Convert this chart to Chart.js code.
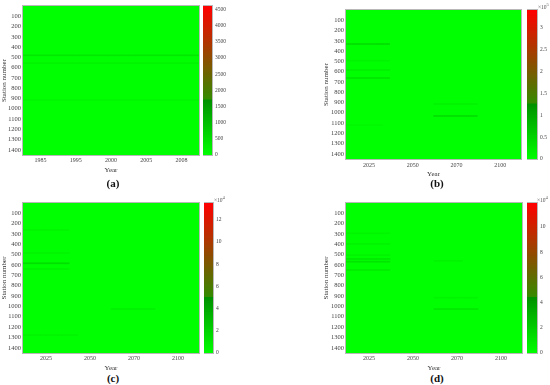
<!DOCTYPE html>
<html>
<head>
<meta charset="utf-8">
<script src="https://cdn.jsdelivr.net/npm/chart.js@4"></script>
<style>
body { margin: 0; background: #fff; width: 550px; height: 385px; position: relative; overflow: hidden; font-family: 'Liberation Serif', serif; }
canvas { position: absolute; }
.lbl { position: absolute; width: 40px; text-align: center; font-size: 11px; font-weight: bold; color: #111; line-height: 12px; }
.exp { position: absolute; font-size: 5.5px; color: #555; line-height: 6px; }
</style>
</head>
<body>
<canvas id="heatA" width="200" height="174" style="left:0;top:0"></canvas>
<canvas id="barA" width="40" height="174" style="left:203px;top:0"></canvas>
<canvas id="heatB" width="201" height="178" style="left:322px;top:0"></canvas>
<canvas id="barB" width="23" height="178" style="left:527px;top:0"></canvas>
<canvas id="heatC" width="200" height="182" style="left:0;top:190px"></canvas>
<canvas id="barC" width="40" height="182" style="left:204px;top:190px"></canvas>
<canvas id="heatD" width="201" height="182" style="left:322px;top:190px"></canvas>
<canvas id="barD" width="23" height="182" style="left:527px;top:190px"></canvas>

<div class="exp" style="left:538px;top:2px">&times;10<sup>5</sup></div>
<div class="exp" style="left:214px;top:195px">&times;10<sup>4</sup></div>
<div class="exp" style="left:537px;top:195px">&times;10<sup>4</sup></div>

<div class="lbl" style="left:93px;top:177px">(a)</div>
<div class="lbl" style="left:417px;top:177px">(b)</div>
<div class="lbl" style="left:93px;top:372px">(c)</div>
<div class="lbl" style="left:417px;top:372px">(d)</div>

<script>
const stationMax = 1450;

// (a) observed period
const colsA = 25;
const tickColsA = [2, 7, 12, 17, 22];
const tickTextA = ['1985', '1995', '2000', '2005', '2008'];
const maxA = 4600;
const barTicksA = [0, 500, 1000, 1500, 2000, 2500, 3000, 3500, 4000, 4500];
const lineStationA = [480, 555, 915];
const lineFromA = [0, 0, 0];
const lineToA = [24, 24, 24];
const lineValueA = [330, 160, 120];

// (b) projection, x10^5
const colsB = 80;
const tickColsB = [10, 30, 50, 70];
const tickTextB = ['2025', '2050', '2070', '2100'];
const maxB = 3.4;
const barTicksB = [0, 0.5, 1, 1.5, 2, 2.5, 3];
const lineStationB = [331, 493, 584, 662, 915, 1031, 1120];
const lineFromB = [0, 0, 0, 0, 40, 40, 0];
const lineToB = [19, 19, 19, 19, 59, 59, 16];
const lineValueB = [0.36, 0.12, 0.15, 0.28, 0.12, 0.36, 0.07];

// (c) projection, x10^4
const colsC = 80;
const tickColsC = [10, 30, 50, 70];
const tickTextC = ['2025', '2050', '2070', '2100'];
const maxC = 13.5;
const barTicksC = [0, 2, 4, 6, 8, 10, 12];
const lineStationC = [261, 483, 583, 638, 1025, 1276];
const lineFromC = [0, 0, 0, 0, 40, 0];
const lineToC = [20, 20, 20, 20, 59, 24];
const lineValueC = [0.4, 0.4, 1.4, 0.45, 0.6, 0.4];

// (d) projection, x10^4
const colsD = 80;
const tickColsD = [10, 30, 50, 70];
const tickTextD = ['2025', '2050', '2070', '2100'];
const maxD = 11.9;
const barTicksD = [0, 2, 4, 6, 8, 10];
const lineStationD = [293, 396, 503, 541, 567, 648, 560, 915, 1025];
const lineFromD = [0, 0, 0, 0, 0, 0, 40, 40, 40];
const lineToD = [19, 19, 19, 19, 19, 19, 52, 59, 59];
const lineValueD = [0.35, 0.4, 0.4, 0.9, 1.0, 0.7, 0.35, 0.4, 0.9];

Chart.defaults.font.family = "'Liberation Serif', serif";
Chart.defaults.color = '#444';
Chart.defaults.animation = false;
Chart.defaults.plugins.legend.display = false;
Chart.defaults.plugins.tooltip.enabled = false;

function mix(a, b, t) {
    return a.map((v, i) => Math.round(v + (b[i] - v) * t));
}

function colorAt(t) {
    t = Math.max(0, Math.min(1, t));
    let c;
    if (t < 0.37) c = mix([0, 255, 0], [0, 145, 0], t / 0.37);
    else c = mix([50, 140, 0], [255, 0, 0], (t - 0.37) / 0.63);
    return 'rgb(' + c.join(',') + ')';
}

const framePlugin = {
    id: 'frame',
    afterDatasetsDraw(chart) {
        const {ctx, chartArea} = chart;
        ctx.save();
        ctx.strokeStyle = '#b8b8b8';
        ctx.lineWidth = 1;
        ctx.strokeRect(Math.round(chartArea.left) - 0.5, Math.round(chartArea.top) - 0.5,
            Math.round(chartArea.right - chartArea.left) + 1, Math.round(chartArea.bottom - chartArea.top) + 1);
        ctx.restore();
    }
};

function heatChart(id, cols, tickCols, tickText, vmax, st, from, to, val, box) {
    const labels = Array.from({length: cols}, (_, i) => i);
    const datasets = st.map((s, k) => ({
        data: labels.map(i => (i >= from[k] && i <= to[k]) ? [s - 5, s + 5] : null),
        backgroundColor: colorAt(val[k] / vmax),
        grouped: false,
        barPercentage: 1,
        categoryPercentage: 1,
        borderWidth: 0
    }));
    // value-0 cells under everything
    datasets.push({
        xAxisID: 'xb',
        data: [[0, stationMax]],
        backgroundColor: colorAt(0),
        grouped: false,
        barPercentage: 1,
        categoryPercentage: 1,
        borderWidth: 0
    });

    new Chart(document.getElementById(id), {
        type: 'bar',
        data: {labels: labels, datasets: datasets},
        options: {
            responsive: false,
            layout: {padding: {top: box.top, right: 1, left: 0, bottom: 0}},
            scales: {
                x: {
                    type: 'category',
                    offset: true,
                    grid: {display: false, drawTicks: false},
                    border: {display: false},
                    ticks: {
                        autoSkip: false, maxRotation: 0, padding: box.xPad,
                        font: {size: 6},
                        callback: (v, i) => {
                            const k = tickCols.indexOf(i);
                            return k >= 0 ? tickText[k] : '';
                        }
                    },
                    title: {display: true, text: 'Year', font: {size: 7}, padding: 0, color: '#333'},
                    afterFit: s => { s.height = box.xH; }
                },
                xb: {
                    type: 'category',
                    labels: ['all'],
                    offset: true,
                    display: false
                },
                y: {
                    type: 'linear',
                    min: 0,
                    max: stationMax,
                    reverse: true,
                    grid: {display: false, drawTicks: false},
                    border: {display: false},
                    ticks: {
                        stepSize: 100, includeBounds: false, autoSkip: false, padding: 2,
                        font: {size: 6.5},
                        callback: v => v === 0 ? '' : v
                    },
                    title: {display: true, text: 'Station number', font: {size: 7}, padding: 0, color: '#333'},
                    afterFit: s => { s.width = box.yW; }
                }
            }
        },
        plugins: [framePlugin]
    });
}

function colorBar(id, vmax, tickVals, box) {
    const n = 80;
    const levels = Array.from({length: n}, (_, i) => vmax * (n - 1 - i) / n);
    const datasets = levels.map(v => ({
        data: [[v, vmax]],
        backgroundColor: colorAt(v / vmax + 0.5 / n),
        grouped: false,
        barPercentage: 1,
        categoryPercentage: 1,
        borderWidth: 0
    }));
    new Chart(document.getElementById(id), {
        type: 'bar',
        data: {labels: ['c'], datasets: datasets},
        options: {
            responsive: false,
            layout: {padding: {top: box.top, bottom: box.bottom, left: 0, right: 0}},
            scales: {
                x: {type: 'category', offset: true, display: false},
                y: {
                    type: 'linear',
                    position: 'right',
                    min: 0,
                    max: vmax,
                    grid: {display: false, drawTicks: false},
                    border: {display: false},
                    afterBuildTicks: s => { s.ticks = tickVals.map(v => ({value: v})); },
                    ticks: {
                        autoSkip: false, padding: 3,
                        font: {size: 5.5},
                        callback: v => String(v)
                    },
                    afterFit: s => { s.width = box.w; }
                }
            }
        },
        plugins: [framePlugin]
    });
}

heatChart('heatA', colsA, tickColsA, tickTextA, maxA, lineStationA, lineFromA, lineToA, lineValueA,
    {top: 6, xH: 19, yW: 23, xPad: 2});
heatChart('heatB', colsB, tickColsB, tickTextB, maxB, lineStationB, lineFromB, lineToB, lineValueB,
    {top: 10, xH: 19, yW: 24, xPad: 3});
heatChart('heatC', colsC, tickColsC, tickTextC, maxC, lineStationC, lineFromC, lineToC, lineValueC,
    {top: 13, xH: 19, yW: 23, xPad: 2});
heatChart('heatD', colsD, tickColsD, tickTextD, maxD, lineStationD, lineFromD, lineToD, lineValueD,
    {top: 13, xH: 19, yW: 24, xPad: 2});

colorBar('barA', maxA, barTicksA, {top: 6, bottom: 19, w: 31});
colorBar('barB', maxB, barTicksB, {top: 10, bottom: 19, w: 13});
colorBar('barC', maxC, barTicksC, {top: 13, bottom: 19, w: 31});
colorBar('barD', maxD, barTicksD, {top: 13, bottom: 19, w: 13});
</script>
</body>
</html>
